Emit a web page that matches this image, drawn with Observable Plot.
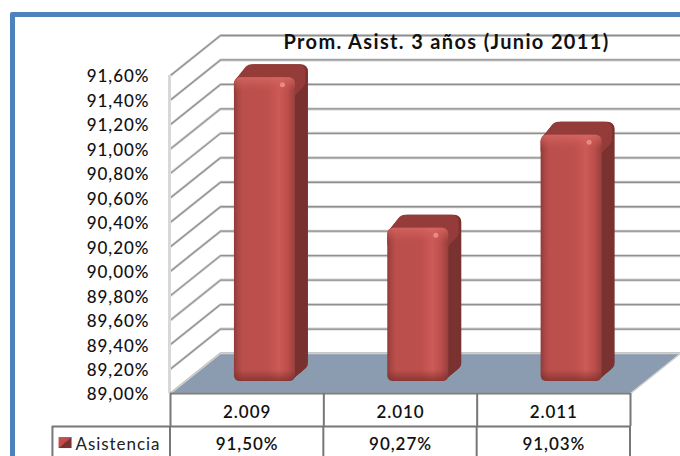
<!DOCTYPE html>
<html><head><meta charset="utf-8">
<script src="https://cdn.jsdelivr.net/npm/d3@7"></script>
<script src="https://cdn.jsdelivr.net/npm/@observablehq/plot@0.6"></script>
<style>
html,body{margin:0;padding:0;background:#fff;overflow:hidden}
#wrap{position:relative;width:680px;height:456px;overflow:hidden}
#frame{position:absolute;left:10px;top:12px;width:700px;height:480px;border:5px solid #4f81bd;border-radius:2px;box-sizing:border-box}
#wrap svg{position:absolute;left:0;top:0;background:transparent}
#wrap svg text{letter-spacing:.95px}
</style></head><body>
<div id="wrap"><div id="frame"></div></div>
<script>
const title = "Prom. Asist. 3 años (Junio 2011)";
const years = ["2.009", "2.010", "2.011"];
const values = [91.50, 90.27, 91.03];
const valueLabels = ["91,50%", "90,27%", "91,03%"];
const tickValues = [89,89.2,89.4,89.6,89.8,90,90.2,90.4,90.6,90.8,91,91.2,91.4,91.6];
const seriesName = "Asistencia";

const depthX = 50/153.33, depthY = 40/122.3;   // wall depth in data units
const fmt = d => d.toFixed(2).replace(".", ",") + "%";
const bars = years.map((year, i) => ({year, i, value: values[i], label: valueLabels[i]}));
const yMin = 89, yMax = 91.6, nCat = 3;
const font = "Lato, 'Open Sans', sans-serif";

const marks = [];
// back wall gridlines
marks.push(Plot.ruleY(tickValues.map(t => t + depthY), {x1: depthX, x2: nCat + depthX, stroke: "#d4d4d4", strokeWidth: 3}));
marks.push(Plot.ruleY(tickValues.map(t => t + depthY), {x1: depthX, x2: nCat + depthX, stroke: "#8f8f8f", strokeWidth: 1.3}));
// side wall lines
marks.push(Plot.link(tickValues, {x1: 0, x2: depthX, y1: d => d, y2: d => d + depthY, stroke: "#d0d0d0", strokeWidth: 2.6}));
marks.push(Plot.link(tickValues, {x1: 0, x2: depthX, y1: d => d, y2: d => d + depthY, stroke: "#8f8f8f", strokeWidth: 1.2}));
marks.push(Plot.ruleX([0], {y1: yMin, y2: yMax, stroke: "#d8d8d8", strokeWidth: 3, dx: -1}));
// floor
const floor = [[0,yMin],[nCat,yMin],[nCat+depthX,yMin+depthY],[depthX,yMin+depthY],[0,yMin]];
marks.push(Plot.line(floor, {x: d => d[0], y: d => d[1], fill: "#8c9cb0", stroke: "#d0d0d0", strokeWidth: 1.5}));
marks.push(Plot.ruleY([yMin], {x1: 0, x2: nCat, stroke: "#808080", strokeWidth: 2}));

const bx1 = d => d.i + 0.417, bx2 = d => d.i + 0.815;
const steps = 13;
// side extrusion
for (let k = steps; k > 0; k--) {
  marks.push(Plot.rect(bars, {x1: bx1, x2: bx2, y1: yMin, y2: d => d.value, fill: "#7a3230", rx: 7,
    dx: k, dy: -12 - k*11/steps, insetTop: 2*(1-k/steps)}));
}
// top face
for (let k = steps; k >= 0; k--) {
  marks.push(Plot.rect(bars, {x1: bx1, x2: bx2, y1: d => d.value - 0.2, y2: d => d.value, fill: "#953c3a", rx: 7,
    dx: k*0.8, dy: -12 - k*11/steps, insetTop: 2*(1-k/steps)}));
}
// front face
marks.push(Plot.rect(bars, {x1: bx1, x2: bx2, y1: yMin, y2: d => d.value, fill: "url(#front)", rx: 6, dy: -12, insetTop: 2}));
marks.push(Plot.rect(bars, {x1: bx1, x2: bx2, y1: d => d.value - 0.14, y2: d => d.value, fill: "url(#topGlow)", rx: 6, dy: -12, insetTop: 2}));
marks.push(Plot.rect(bars, {x1: bx1, x2: bx2, y1: yMin, y2: yMin + 0.09, fill: "url(#botShade)", rx: 5, dy: -12}));
marks.push(Plot.dot(bars, {x: d => d.i + 0.815, y: d => d.value, r: 2.5, fill: "#e88a86", dx: -13, dy: -3}));

// table lines
marks.push(Plot.ruleX([0,1,2,3], {y1: yMin, y2: yMin - 0.27, stroke: "#777", strokeWidth: 2}));
marks.push(Plot.ruleX([0,1,2,3], {y1: yMin - 0.27, y2: yMin - 0.52, stroke: "#777", strokeWidth: 2, dx: d => d === 0 ? 0 : -1.5}));
marks.push(Plot.ruleX([-0.77], {y1: yMin - 0.27, y2: yMin - 0.52, stroke: "#777", strokeWidth: 2}));
marks.push(Plot.ruleY([yMin - 0.27], {x1: -0.77, x2: nCat, stroke: "#777", strokeWidth: 2}));
// table text
marks.push(Plot.text(bars, {x: d => d.i + 0.5, y: yMin - 0.155, text: "year", fontSize: 17, fontWeight: 600, fill: "#111", fontFamily: font}));
marks.push(Plot.text(bars, {x: d => d.i + 0.5, y: yMin - 0.42, text: "label", fontSize: 17, fontWeight: 600, fill: "#111", fontFamily: font}));
marks.push(Plot.rect([seriesName], {x1: -0.727, x2: -0.642, y1: yMin - 0.36, y2: yMin - 0.45, fill: "url(#swatch)"}));
marks.push(Plot.text([seriesName], {x: -0.62, y: yMin - 0.42, text: d => d, textAnchor: "start", fontSize: 17, fill: "#222", fontFamily: font}));
// axis
marks.push(Plot.axisY(tickValues, {anchor: "left", tickSize: 0, tickPadding: 21, tickFormat: fmt, label: null, fontSize: 17, fontFamily: font, fontWeight: 500, fill: "#111", dy: 1.5}));
// title
marks.push(Plot.text([title], {x: 1.8, y: yMin + 2.87, text: d => d, fontSize: 20, fontWeight: 700, fill: "#111", fontFamily: font}));

const chart = Plot.plot({
  width: 680, height: 456,
  marginLeft: 170, marginRight: 50, marginTop: 75, marginBottom: 63,
  x: {domain: [0, nCat], axis: null},
  y: {domain: [yMin, yMax], axis: null},
  style: {background: "transparent", overflow: "visible"},
  marks
});
chart.insertAdjacentHTML("afterbegin", `<defs>
<linearGradient id="front" x1="0" x2="1" y1="0" y2="0">
<stop offset="0" stop-color="#8e3b39"/><stop offset=".06" stop-color="#a84643"/><stop offset=".14" stop-color="#bb4f4c"/>
<stop offset=".55" stop-color="#bd4f4c"/><stop offset=".74" stop-color="#cc5a56"/><stop offset=".88" stop-color="#bc4e4b"/><stop offset="1" stop-color="#96403d"/>
</linearGradient>
<linearGradient id="topGlow" x1="0" x2="0" y1="0" y2="1">
<stop offset="0" stop-color="#d86a66" stop-opacity=".8"/><stop offset="1" stop-color="#c9554f" stop-opacity="0"/>
</linearGradient>
<linearGradient id="botShade" x1="0" x2="0" y1="0" y2="1">
<stop offset="0" stop-color="#7a2e2c" stop-opacity="0"/><stop offset="1" stop-color="#7a2e2c" stop-opacity=".75"/>
</linearGradient>
<linearGradient id="swatch" x1="0" x2="1" y1="0" y2="1">
<stop offset="0" stop-color="#c9554f"/><stop offset=".5" stop-color="#b84c49"/><stop offset=".52" stop-color="#7a3230"/><stop offset="1" stop-color="#7a3230"/>
</linearGradient></defs>`);
chart.querySelectorAll("text").forEach(t => {
  if (t.textContent === title) t.style.letterSpacing = "1.35px";
});
document.getElementById("wrap").appendChild(chart);
</script>
</body></html>
